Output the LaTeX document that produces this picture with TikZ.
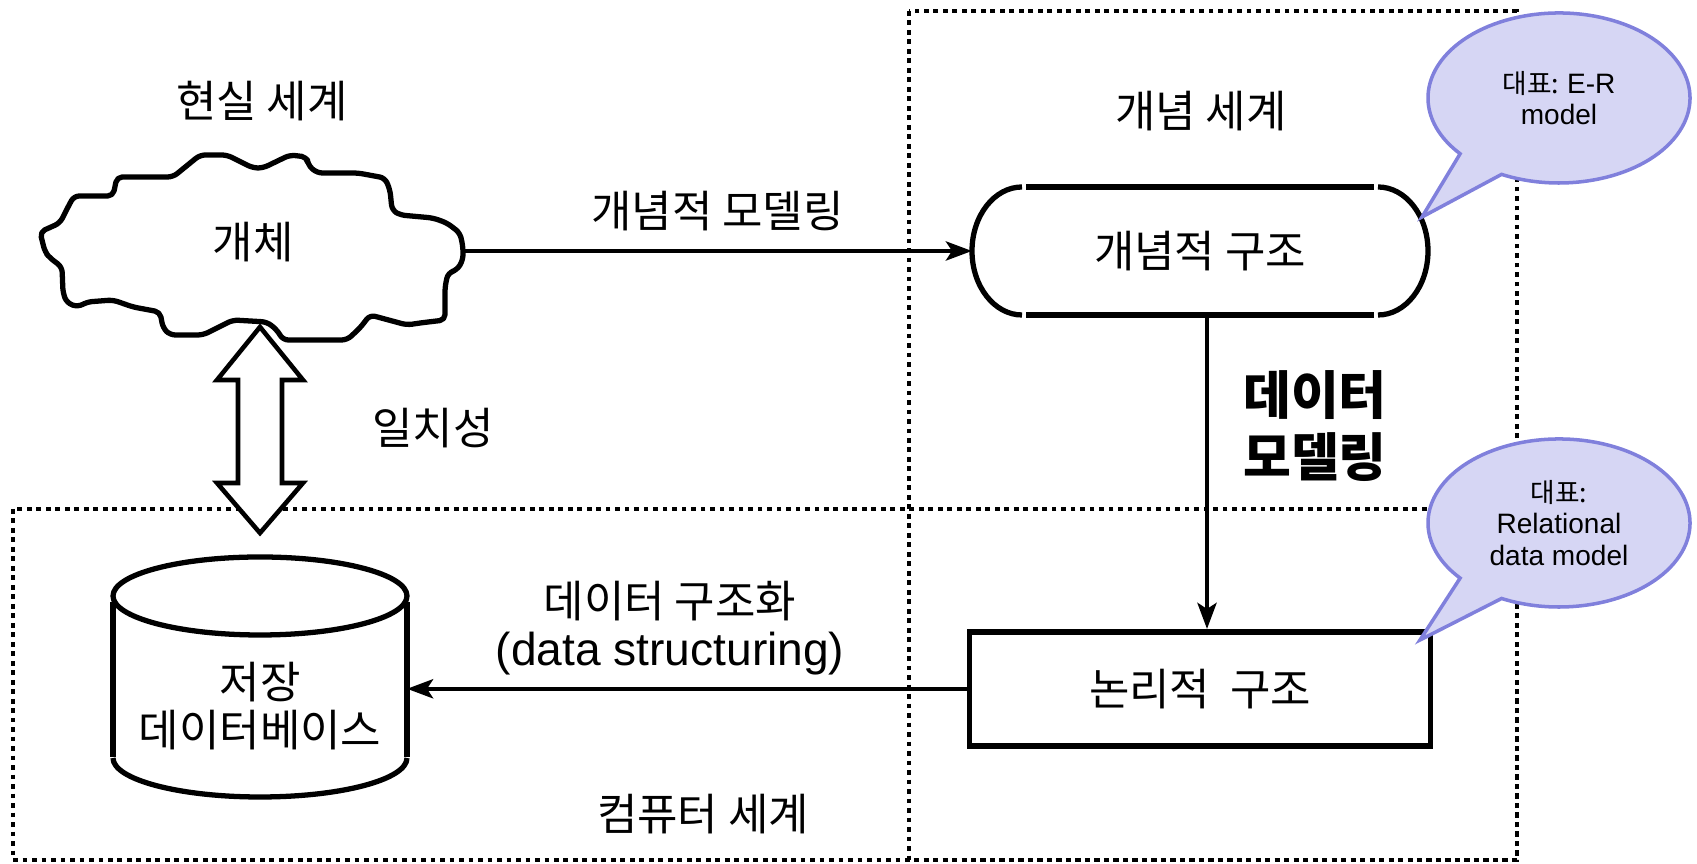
\documentclass[tikz,border=0pt]{standalone}
\usepackage{fontspec}
\setmainfont{Noto Sans CJK KR}
\newfontfamily\latin[Scale=1.05]{Liberation Sans}
\usepackage{tikz}
\usetikzlibrary{positioning,calc,arrows.meta}
\definecolor{notefill}{RGB}{214,214,244}
\definecolor{notedraw}{RGB}{128,128,220}

\begin{document}
\begin{tikzpicture}[
    outline/.style={line width=1.5pt, line join=round},
    world/.style={line width=1.35pt, dash pattern=on 1.35pt off 1.35pt},
    flow/.style={line width=1.3pt, -{Stealth[length=2.6mm, width=1.9mm, inset=0.6mm]}},
    note/.style={fill=notefill, draw=notedraw, line width=1pt},
    notetext/.style={align=center, font=\fontsize{7.6}{8.9}\selectfont},
    txt/.style={align=center, font=\fontsize{12.5}{13.7}\selectfont},
    conceptbox/.style={minimum width=4.56cm, minimum height=1.28cm, outer sep=0pt, font=\fontsize{12.5}{13.7}\selectfont},
    structbox/.style={draw, line width=1.6pt, minimum width=4.61cm, minimum height=1.14cm, font=\fontsize{12.5}{13.7}\selectfont}
]
    \useasboundingbox (0,0) rectangle (16.97,8.64);

    % the three worlds
    \draw[world] (9.09,8.53) rectangle (15.17,0.04);
    \draw[world] (0.13,3.55) rectangle (15.17,0.04);

    % real world
    \node[txt] (realTitle) at (2.62,7.63) {현실 세계};
    \draw[outline, rounded corners=1.5pt] (0.40,6.32) -- (0.60,6.41) -- (0.68,6.57) -- (0.74,6.68) -- (1.13,6.68)
        -- (1.17,6.87) -- (1.73,6.87) -- (2.00,7.09) -- (2.27,7.09) -- (2.53,6.96) -- (2.63,6.96)
        -- (2.90,7.09) -- (3.07,7.07) -- (3.08,6.99) -- (3.17,6.91) -- (3.58,6.91) -- (3.85,6.86)
        -- (3.90,6.74) -- (3.92,6.54) -- (4.00,6.49) -- (4.33,6.46) -- (4.47,6.41) -- (4.60,6.31)
        -- (4.63,6.17) -- (4.63,6.04) -- (4.57,5.94) -- (4.48,5.91) -- (4.45,5.77) -- (4.45,5.44)
        -- (4.20,5.41) -- (4.07,5.39) -- (3.70,5.49) -- (3.60,5.36) -- (3.47,5.24) -- (2.83,5.24)
        -- (2.77,5.34) -- (2.67,5.42) -- (2.33,5.44) -- (2.23,5.39) -- (2.03,5.29) -- (1.70,5.29)
        -- (1.63,5.36) -- (1.60,5.52) -- (1.33,5.57) -- (1.13,5.64) -- (0.87,5.62) -- (0.78,5.57)
        -- (0.67,5.61) -- (0.63,5.71) -- (0.62,5.97) -- (0.50,6.06) -- (0.45,6.12) -- cycle;
    \node[txt] (entity) at (2.53,6.22) {개체};
    \coordinate (cloudE) at (4.63,6.13);

    % conceptual world
    \node[txt] (conceptTitle) at (12.01,7.53) {개념 세계};
    \node[conceptbox] (concept) at (12.00,6.13) {개념적 구조};
    \draw[outline] ([xshift=5mm]concept.north west) arc[start angle=90, end angle=270, x radius=5mm, y radius=6.4mm];
    \draw[outline] ([xshift=-5mm]concept.south east) arc[start angle=-90, end angle=90, x radius=5mm, y radius=6.4mm];
    \draw[outline] ([xshift=5.4mm]concept.north west) -- ([xshift=-5.4mm]concept.north east);
    \draw[outline] ([xshift=5.4mm]concept.south west) -- ([xshift=-5.4mm]concept.south east);

    \draw[flow] (cloudE) -- node[txt, above=0.6mm] (modeling) {개념적 모델링} (concept.west);

    \node[structbox, below=3.14cm of concept] (logic) {논리적~ 구조};
    \draw[flow] ([xshift=0.7mm]concept.south) -- ([xshift=0.7mm]logic.north);
    \node[align=center, font=\fontsize{14.8}{17.6}\selectfont\bfseries] (dataModel) at (13.15,4.38) {데이터\\모델링};

    % computer world
    \node[txt, minimum width=2.94cm, outer sep=0pt] (db) at (2.60,1.58) {저장\\데이터베이스};
    \draw[outline] ([yshift=11mm]db.center) ellipse[x radius=14.7mm, y radius=3.9mm];
    \draw[outline] ([yshift=10.4mm]db.west) -- ([yshift=-5.1mm]db.west);
    \draw[outline] ([yshift=10.4mm]db.east) -- ([yshift=-5.1mm]db.east);
    \draw[outline] ([yshift=-5.2mm]db.west) arc[start angle=180, end angle=360, x radius=14.7mm, y radius=3.9mm];

    \draw[flow] (logic.west) -- node[txt, above, pos=0.53] (structuring) {데이터 구조화\\{\latin (data structuring)}} (logic.west -| db.east);
    \node[txt] (computerTitle) at (7.03,0.50) {컴퓨터 세계};

    % consistency
    \draw[line width=1.3pt, fill=white, line join=miter] (2.60,5.37) -- (3.03,4.84) -- (2.82,4.84) -- (2.82,3.81) -- (3.03,3.81)
        -- (2.60,3.31) -- (2.17,3.81) -- (2.38,3.81) -- (2.38,4.84) -- (2.17,4.84) -- cycle;
    \node[txt] (consistency) at (4.33,4.36) {일치성};

    % notes
    \coordinate (erC) at (15.59,7.66);
    \coordinate (relC) at (15.59,3.41);
    \draw[note] (erC) ++(244:1.31cm and 0.85cm) arc[start angle=244, end angle=581, x radius=1.31cm, y radius=0.85cm] -- (14.22,6.47) -- cycle;
    \draw[note] (relC) ++(244:1.31cm and 0.84cm) arc[start angle=244, end angle=581, x radius=1.31cm, y radius=0.84cm] -- (14.20,2.24) -- cycle;
    \node[notetext] (erNote) at (erC) {대표: {\latin E-R}\\{\latin model}};
    \node[notetext] (relNote) at (relC) {대표:\\{\latin Relational}\\{\latin data model}};
\end{tikzpicture}
\end{document}
